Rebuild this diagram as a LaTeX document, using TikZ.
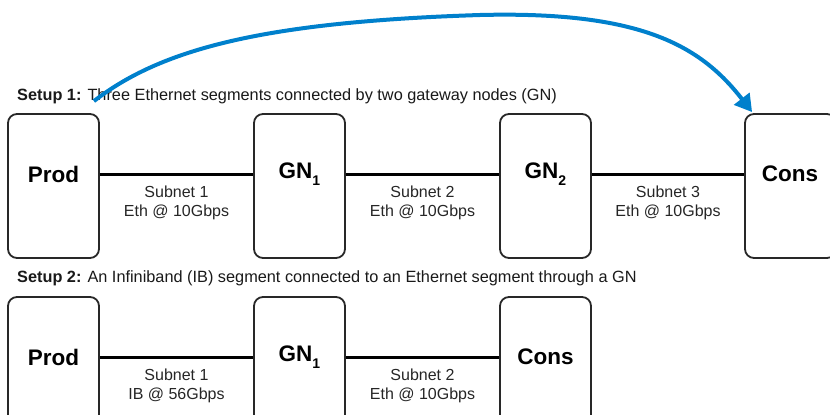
\documentclass[tikz,border=0pt]{standalone}
\usepackage{fontspec}
\setmainfont{Liberation Sans}
\usetikzlibrary{arrows.meta,calc}
\definecolor{arrblue}{RGB}{0,128,204}
\definecolor{boxgray}{RGB}{40,40,40}
\tikzset{
  hostbox/.style={draw=boxgray, line width=1.8pt, rounded corners=9pt, minimum width=91pt, minimum height=144pt, inner sep=0pt},
  hostlbl/.style={font=\fontsize{22.5}{26}\selectfont\bfseries, inner sep=0pt, anchor=center},
  link/.style={line width=3pt, black},
  netlbl/.style={font=\fontsize{16}{19}\selectfont, align=center, inner sep=0pt, text=black!85},
  setuplbl/.style={font=\fontsize{16.3}{19}\selectfont, anchor=west, inner sep=0pt, text=black!90},
  jump/.style={line width=4pt, arrblue, -{Triangle[length=17pt,width=19pt]}}
}
\newcommand{\gnsub}[1]{GN\raisebox{-0.6ex}{\fontsize{14}{16}\selectfont #1}}
\begin{document}
\begin{tikzpicture}[x=1pt,y=-1pt]
\useasboundingbox (0,0) rectangle (830,415);
% Setup 1
\node[setuplbl] (s1) at (17,96) {\textbf{Setup 1:} Three Ethernet segments connected by two gateway nodes (GN)};
\node[hostbox] (p1) at (53.5,186) {};
\node[hostbox] (g1) at (299.5,186) {};
\node[hostbox] (g2) at (545.5,186) {};
\node[hostbox] (c1) at (790.5,186) {};
\node[hostlbl] (p1t) at (53.5,174) {Prod};
\node[hostlbl] (g1t) at (299.5,174) {\gnsub{1}};
\node[hostlbl] (g2t) at (545.5,174) {\gnsub{2}};
\node[hostlbl] (c1t) at (790,174) {Cons};
\draw[link] (p1.east |- p1t.center) -- (g1.west |- p1t.center);
\draw[link] (g1.east |- p1t.center) -- (g2.west |- p1t.center);
\draw[link] (g2.east |- p1t.center) -- (c1.west |- p1t.center);
\node[netlbl] (n11) at (176.5,202.5) {Subnet 1\\Eth @ 10Gbps};
\node[netlbl] (n12) at (422.5,202.5) {Subnet 2\\Eth @ 10Gbps};
\node[netlbl] (n13) at (668,202.5) {Subnet 3\\Eth @ 10Gbps};
% Setup 2
\node[setuplbl] (s2) at (17,278) {\textbf{Setup 2:} An Infiniband (IB) segment connected to an Ethernet segment through a GN};
\node[hostbox] (p2) at (53.5,369) {};
\node[hostbox] (g3) at (299.5,369) {};
\node[hostbox] (c2) at (545.5,369) {};
\node[hostlbl] (p2t) at (53.5,357) {Prod};
\node[hostlbl] (g3t) at (299.5,357) {\gnsub{1}};
\node[hostlbl] (c2t) at (545.5,357) {Cons};
\draw[link] (p2.east |- p2t.center) -- (g3.west |- p2t.center);
\draw[link] (g3.east |- p2t.center) -- (c2.west |- p2t.center);
\node[netlbl] (n21) at (176.5,386) {Subnet 1\\IB @ 56Gbps};
\node[netlbl] (n22) at (422.5,386) {Subnet 2\\Eth @ 10Gbps};
% jump arrow
\coordinate (js) at ($(p1.north east)+(-6,-12)$);
\coordinate (je) at ($(c1.north west)+(8,-1)$);
\draw[jump] (js) .. controls (160,50) and (260,22) .. (480,15)
  .. controls (640,11) and (700,45) .. (je);
\end{tikzpicture}
\end{document}
